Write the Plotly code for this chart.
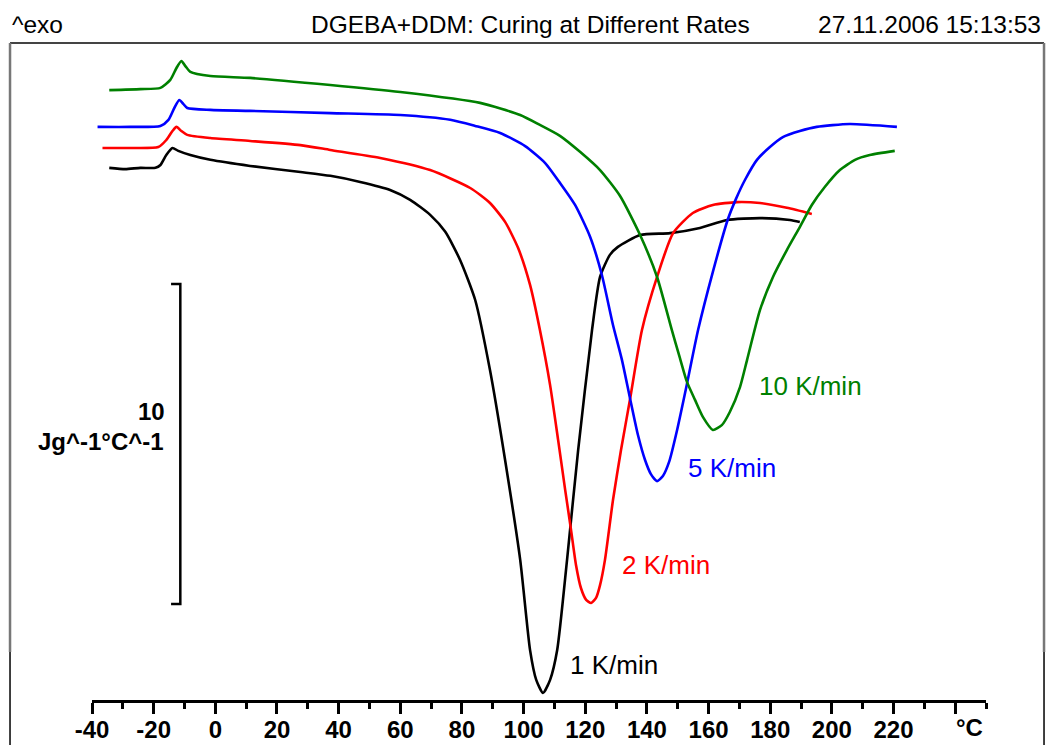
import plotly.graph_objects as go

# ---------------- data (temperature in °C, heat flow in J g^-1 °C^-1, offset) ----------------
temp_1K = [-34.4, -29.2, -24.3, -19.4, -17.8, -15.9, -13.9, -12.0, -8.1, -1.6, 11.3, 27.6, 37.3, 47.0,
           56.7, 63.2, 69.7, 74.6, 79.4, 84.3, 89.1, 94.0, 98.9, 102.1, 104.1, 106.3, 108.6, 110.9,
           114.1, 117.7, 122.2, 124.8, 128.0, 130.6, 137.8, 147.5, 157.2, 166.0, 176.7, 186.4, 189.6]
hf_1K = [16.63, 16.59, 16.63, 16.63, 16.72, 17.03, 17.25, 17.16, 17.03, 16.88, 16.69, 16.50, 16.38, 16.19,
         15.94, 15.63, 15.16, 14.63, 13.75, 12.50, 10.31, 7.50, 4.38, 1.56, 0.63, 0.22, 0.63, 1.56,
         4.38, 7.81, 11.56, 13.22, 13.91, 14.16, 14.53, 14.59, 14.75, 15.00, 15.06, 15.00, 14.94]

temp_2K = [-36.6, -27.6, -18.5, -15.9, -13.9, -12.6, -11.0, -9.1, -1.6, 11.3, 27.6, 37.3, 53.5, 69.7,
           82.7, 89.1, 94.0, 98.2, 102.1, 105.3, 108.6, 111.2, 113.5, 115.4, 117.0, 118.6, 120.3, 121.9,
           123.5, 124.8, 126.4, 129.0, 131.6, 134.5, 138.4, 143.3, 148.5, 154.9, 161.4, 169.2, 176.7,
           185.4, 193.5]
hf_2K = [17.25, 17.25, 17.28, 17.50, 17.78, 17.91, 17.78, 17.66, 17.56, 17.47, 17.34, 17.19, 16.94, 16.56,
         16.00, 15.53, 14.94, 14.13, 12.97, 11.56, 9.84, 8.13, 6.56, 5.31, 4.22, 3.50, 3.13, 3.03,
         3.19, 3.59, 4.38, 6.25, 7.81, 9.38, 11.56, 13.22, 14.59, 15.22, 15.47, 15.56, 15.53,
         15.38, 15.19]

temp_5K = [-38.2, -27.6, -17.8, -15.2, -13.3, -11.7, -10.4, -9.1, -1.6, 11.3, 37.3, 60.0, 76.2, 84.3,
           92.4, 100.5, 107.0, 111.8, 116.7, 121.6, 125.4, 129.0, 131.9, 134.5, 137.1, 139.4, 141.3,
           143.3, 145.2, 147.2, 149.8, 153.0, 156.6, 161.4, 166.3, 168.9, 171.8, 175.7, 179.9, 184.1,
           189.6, 195.1, 205.8, 221.1]
hf_5K = [17.91, 17.91, 17.94, 18.13, 18.50, 18.75, 18.63, 18.50, 18.44, 18.41, 18.34, 18.28, 18.13, 17.94,
         17.72, 17.31, 16.78, 16.16, 15.47, 14.47, 13.28, 11.72, 10.63, 9.44, 8.28, 7.50, 7.06,
         6.84, 7.00, 7.44, 8.44, 9.88, 11.56, 13.38, 15.03, 15.66, 16.25, 16.88, 17.28, 17.59,
         17.78, 17.91, 18.00, 17.91]

temp_10K = [-34.4, -24.3, -17.8, -14.6, -12.6, -11.0, -9.7, -8.1, -1.6, 11.3, 37.3, 60.0, 85.9, 98.9,
            105.3, 111.8, 118.3, 124.8, 131.3, 137.8, 143.3, 148.1, 150.7, 153.0, 155.6, 158.2, 161.4,
            164.3, 166.9, 170.2, 172.5, 176.7, 180.9, 185.4, 189.6, 193.5, 197.7, 202.6, 207.5, 212.3,
            220.4]
hf_10K = [19.06, 19.09, 19.13, 19.38, 19.75, 19.97, 19.81, 19.63, 19.50, 19.44, 19.22, 19.00, 18.66, 18.28,
          17.97, 17.63, 17.13, 16.56, 15.75, 14.53, 13.22, 11.56, 10.69, 9.94, 9.38, 8.84, 8.44,
          8.59, 9.00, 9.78, 10.63, 12.19, 13.22, 14.06, 14.78, 15.47, 16.03, 16.56, 16.88, 17.03,
          17.16]

series_names = ["1 K/min", "2 K/min", "5 K/min", "10 K/min"]
series_colors = ["#000000", "#ff0000", "#0000ff", "#008000"]
label_temp = [114.5, 131.4, 152.8, 175.8]
label_hf = [1.09, 4.22, 7.25, 9.81]

tick_values = [-40, -20, 0, 20, 40, 60, 80, 100, 120, 140, 160, 180, 200, 220, 240]
tick_labels = ["-40", "-20", "0", "20", "40", "60", "80", "100", "120", "140", "160", "180", "200", "220", ""]

scale_temp = -11.35
scale_low, scale_high = 3.0, 13.0
scale_value_text = "10"
scale_unit_text = "Jg^-1°C^-1"

title_text = "DGEBA+DDM: Curing at Different Rates"
date_text = "27.11.2006 15:13:53"
exo_text = "^exo"
unit_text = "°C"

# ---------------- figure ----------------
FONT = "Arial, Liberation Sans, sans-serif"
fig = go.Figure()

all_t = [temp_1K, temp_2K, temp_5K, temp_10K]
all_h = [hf_1K, hf_2K, hf_5K, hf_10K]
for t, h, name, col in zip(all_t, all_h, series_names, series_colors):
    fig.add_trace(go.Scatter(x=t, y=h, mode="lines", name=name,
                             line=dict(color=col, width=2.6, shape="spline", smoothing=0.6),
                             showlegend=False, hoverinfo="skip"))

# scale bar "]"
fig.add_trace(go.Scatter(
    x=[scale_temp - 3.0, scale_temp, scale_temp, scale_temp - 3.0],
    y=[scale_high, scale_high, scale_low, scale_low],
    mode="lines", line=dict(color="black", width=2.5), showlegend=False, hoverinfo="skip"))

annotations = []
for name, col, tx, hy in zip(series_names, series_colors, label_temp, label_hf):
    annotations.append(dict(x=tx, y=hy, xref="x", yref="y", text=name, showarrow=False,
                            xanchor="left", yanchor="middle",
                            font=dict(family=FONT, size=26, color=col)))

annotations += [
    dict(x=-15.6, y=9.03, xref="x", yref="y", text=scale_value_text, showarrow=False,
         xanchor="right", yanchor="middle", font=dict(family=FONT, size=24, color="black", weight="bold")),
    dict(x=-16.0, y=8.09, xref="x", yref="y", text=scale_unit_text, showarrow=False,
         xanchor="right", yanchor="middle", font=dict(family=FONT, size=24, color="black", weight="bold")),
    dict(x=-0.0917, y=1.0274, xref="paper", yref="paper", text=exo_text, showarrow=False,
         xanchor="left", yanchor="middle", font=dict(family=FONT, size=24.5, color="black")),
    dict(x=0.491, y=1.0274, xref="paper", yref="paper", text=title_text, showarrow=False,
         xanchor="center", yanchor="middle", font=dict(family=FONT, size=24.5, color="black")),
    dict(x=1.0638, y=1.0274, xref="paper", yref="paper", text=date_text, showarrow=False,
         xanchor="right", yanchor="middle", font=dict(family=FONT, size=24.5, color="black")),
    dict(x=0.982, y=-0.0426, xref="paper", yref="paper", text=unit_text, showarrow=False,
         xanchor="center", yanchor="middle", font=dict(family=FONT, size=24, color="black", weight="bold")),
]

# frame (paper coords)
xl, xr = -0.0917, 1.0649
ytop, ysplit, ybot = 1.0, (700 - 652) / 657, -0.0685
shapes = [
    dict(type="line", xref="paper", yref="paper", x0=xl, x1=xr, y0=ytop, y1=ytop,
         line=dict(color="#444444", width=2)),
    dict(type="line", xref="paper", yref="paper", x0=xl, x1=xl, y0=ytop, y1=ysplit,
         line=dict(color="#777777", width=2.5)),
    dict(type="line", xref="paper", yref="paper", x0=xl, x1=xl, y0=ysplit, y1=ybot,
         line=dict(color="#000000", width=1.5)),
    dict(type="line", xref="paper", yref="paper", x0=xr, x1=xr, y0=ytop, y1=ysplit,
         line=dict(color="#777777", width=2.5)),
    dict(type="line", xref="paper", yref="paper", x0=xr, x1=xr, y0=ysplit, y1=ybot,
         line=dict(color="#000000", width=1.5)),
]

fig.update_layout(
    width=1049, height=745,
    margin=dict(l=92, r=63, t=43, b=45, pad=0, autoexpand=False),
    paper_bgcolor="white", plot_bgcolor="white",
    showlegend=False,
    annotations=annotations, shapes=shapes,
    xaxis=dict(range=[-40, 250], showgrid=False, zeroline=False, automargin=False,
               showline=True, linecolor="black", linewidth=2.5,
               tickmode="array", tickvals=tick_values, ticktext=tick_labels,
               ticks="outside", ticklen=11, tickwidth=2.5, tickcolor="black",
               ticklabelstandoff=-5,
               tickfont=dict(family=FONT, size=24, color="black", weight="bold"),
               minor=dict(ticks="outside", ticklen=6, tickwidth=2.5, tickcolor="black",
                          tickmode="linear", tick0=0, dtick=10),
               fixedrange=True),
    yaxis=dict(range=[0, 657 / 32], visible=False, showgrid=False, zeroline=False,
               automargin=False, fixedrange=True),
)

fig.write_html("out.html")
